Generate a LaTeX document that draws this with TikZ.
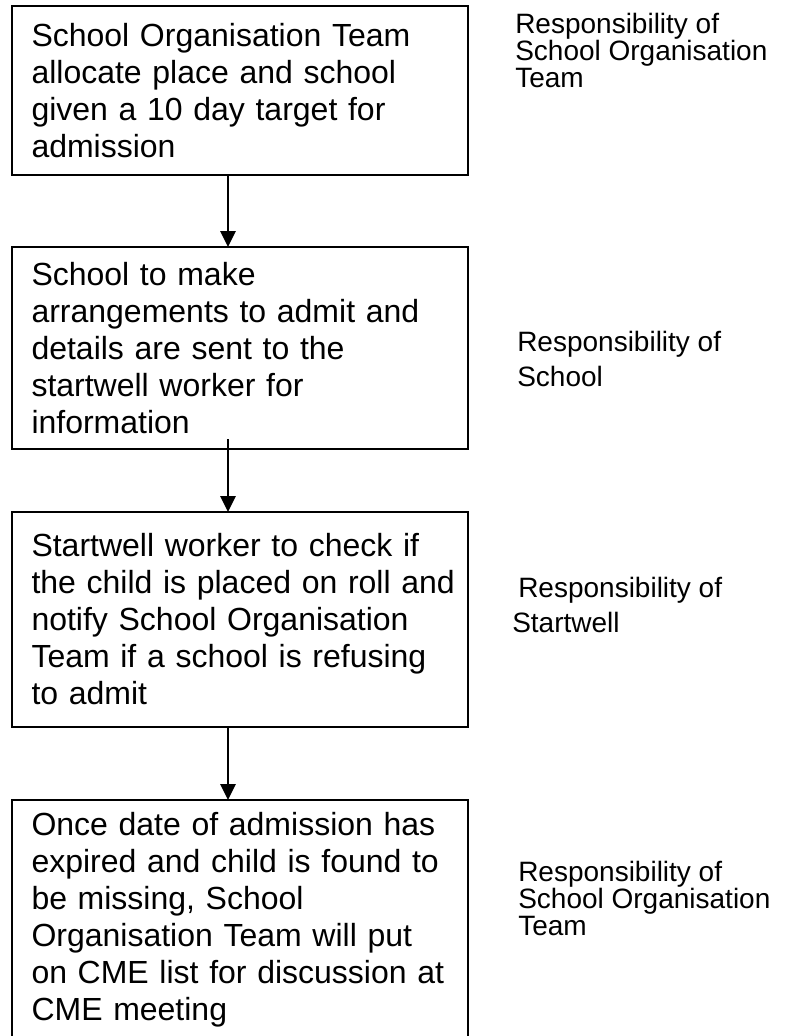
\documentclass[tikz,border=0pt]{standalone}
\usepackage{fontspec}
\setmainfont{Liberation Sans}
\usetikzlibrary{arrows.meta}
\begin{document}
\begin{tikzpicture}[x=0.75pt,y=-0.75pt,
  stagebox/.style={draw, line width=1.5pt, rectangle, anchor=north west,
    outer sep=0pt, inner xsep=14.625pt, inner ysep=0pt,
    minimum width=342pt, text width=312.75pt, align=left,
    font=\fontsize{24pt}{27.75pt}\selectfont},
  dutytight/.style={anchor=base west, inner sep=0pt, align=left,
    font=\fontsize{21pt}{20.25pt}\selectfont},
  dutyloose/.style={anchor=base west, inner sep=0pt, align=left,
    font=\fontsize{21pt}{25.9pt}\selectfont},
  flow/.style={line width=1.4pt, -{Triangle[length=12pt,width=11.5pt]}}]
\useasboundingbox (0,0) rectangle (786,1036);
\clip (0,0) rectangle (786,1036);

% process stages
\node[stagebox, minimum height=126.75pt] (s1) at (12,6)
  {School Organisation Team\\allocate place and school\\given a 10 day target for\\admission};
\node[stagebox, minimum height=151.5pt] (s2) at (12,247)
  {School to make\\arrangements to admit and\\details are sent to the\\startwell worker for\\information};
\node[stagebox, minimum height=161.25pt] (s3) at (12,512)
  {Startwell worker to check if\\\mbox{the child is placed on roll and}\\notify School Organisation\\Team if a school is refusing\\to admit};
\node[stagebox, minimum height=180pt] (s4) at (12,800)
  {Once date of admission has\\expired and child is found to\\be missing, School\\Organisation Team will put\\on CME list for discussion at\\CME meeting};

% who is responsible for each stage (placed by the baseline of the last line)
\node[dutytight] (r1) at (515,87) {Responsibility of\\School Organisation\\Team};
\node[dutyloose] (r2) at (517,386) {Responsibility of\\School};
\node[dutyloose] (r3) at (512,632) {\hspace*{4.5pt}Responsibility of\\Startwell};
\node[dutytight] (r4) at (518,935) {Responsibility of\\School Organisation\\Team};

% connectors
\draw[flow] ([xshift=-9pt]s1.south) -- ([xshift=-9pt]s2.north);
\draw[flow] ([xshift=-9pt,yshift=7.5pt]s2.south) -- ([xshift=-9pt]s3.north);
\draw[flow] ([xshift=-9pt]s3.south) -- ([xshift=-9pt]s4.north);
\end{tikzpicture}
\end{document}
